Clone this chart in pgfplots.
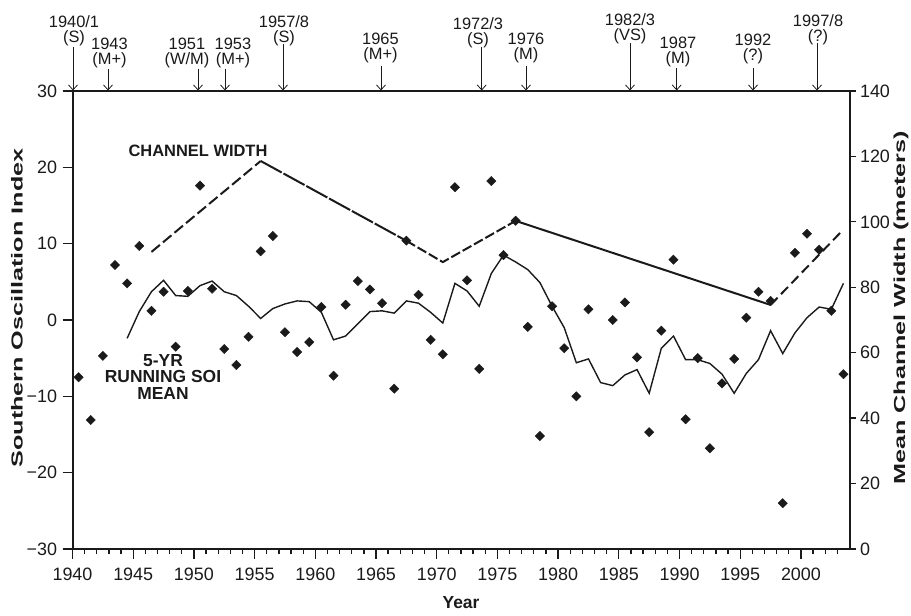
\documentclass[border=0pt]{standalone}
\usepackage{pgfplots}
\pgfplotsset{compat=1.18}
\usepackage{pgfplotstable}
\usetikzlibrary{arrows.meta}
\usepackage{fontspec}
\setmainfont{Liberation Sans}
\definecolor{ink}{HTML}{1A1A1A}

\pgfplotstableread{
year soi
1940.5 -7.5
1941.5 -13.1
1942.5 -4.7
1943.5 7.2
1944.5 4.8
1945.5 9.7
1946.5 1.2
1947.5 3.7
1948.5 -3.5
1949.5 3.8
1950.5 17.6
1951.5 4.1
1952.5 -3.8
1953.5 -5.9
1954.5 -2.2
1955.5 9.0
1956.5 11.0
1957.5 -1.6
1958.5 -4.2
1959.5 -2.9
1960.5 1.7
1961.5 -7.3
1962.5 2.0
1963.5 5.1
1964.5 4.0
1965.5 2.2
1966.5 -9.0
1967.5 10.4
1968.5 3.3
1969.5 -2.6
1970.5 -4.5
1971.5 17.4
1972.5 5.2
1973.5 -6.4
1974.5 18.2
1975.5 8.5
1976.5 13.0
1977.5 -0.9
1978.5 -15.2
1979.5 1.8
1980.5 -3.7
1981.5 -10.0
1982.5 1.4
1984.5 0.0
1985.5 2.3
1986.5 -4.9
1987.5 -14.7
1988.5 -1.4
1989.5 7.9
1990.5 -13.0
1991.5 -5.0
1992.5 -16.8
1993.5 -8.3
1994.5 -5.1
1995.5 0.3
1996.5 3.7
1997.5 2.5
1998.5 -24.0
1999.5 8.8
2000.5 11.3
2001.5 9.2
2002.5 1.2
2003.5 -7.1
}\soitable

\pgfplotstableread{
year mean
1944.5 -2.4
1945.5 1.1
1946.5 3.7
1947.5 5.2
1948.5 3.2
1949.5 3.1
1950.5 4.5
1951.5 5.1
1952.5 3.7
1953.5 3.2
1954.5 1.8
1955.5 0.2
1956.5 1.5
1957.5 2.1
1958.5 2.5
1959.5 2.4
1960.5 1.0
1961.5 -2.6
1962.5 -2.1
1963.5 -0.5
1964.5 1.1
1965.5 1.2
1966.5 0.9
1967.5 2.5
1968.5 2.2
1969.5 1.0
1970.5 -0.4
1971.5 4.8
1972.5 3.8
1973.5 1.8
1974.5 6.1
1975.5 8.5
1976.5 7.6
1977.5 6.6
1978.5 4.9
1979.5 1.8
1980.5 -1.0
1981.5 -5.6
1982.5 -5.1
1983.5 -8.2
1984.5 -8.6
1985.5 -7.2
1986.5 -6.5
1987.5 -9.6
1988.5 -3.7
1989.5 -2.1
1990.5 -5.2
1991.5 -5.2
1992.5 -5.7
1993.5 -7.1
1994.5 -9.6
1995.5 -7.0
1996.5 -5.2
1997.5 -1.4
1998.5 -4.4
1999.5 -1.7
2000.5 0.3
2001.5 1.7
2002.5 1.4
2003.5 4.8
}\meantable

\begin{document}
\begin{tikzpicture}[x=1bp,y=1bp]
\useasboundingbox (0,0) rectangle (911,616);
\begin{axis}[
  at={(72.5bp,67bp)}, anchor=south west,
  scale only axis, width=777bp, height=458bp,
  xmin=1940, xmax=2004, ymin=-30, ymax=30,
  axis line style={ink, line width=2bp},
  tick align=outside, xtick pos=bottom, ytick pos=left,
  xtick={1940,1945,...,2000},
  xticklabels={1940,1945,1950,1955,1960,1965,1970,1975,1980,1985,1990,1995,2000},
  minor xtick={1941,...,2003},
  ytick={-30,-20,...,30},
  yticklabels={−30,−20,−10,0,10,20,30},
  major tick length=10bp, minor tick length=5.5bp,
  every tick/.style={ink, line width=1.3bp},
  tick label style={font=\fontsize{18}{21}\selectfont, text=ink},
  xticklabel style={yshift=-5bp},
  yticklabel style={xshift=-2bp},
  clip=false,
]
\addplot[only marks, mark=square*, mark size=3.3bp, mark options={rotate=45}, ink] table[x=year,y=soi] {\soitable};
\addplot[ink, line width=1.4bp] table[x=year,y=mean] {\meantable};
\end{axis}
\begin{axis}[
  at={(72.5bp,67bp)}, anchor=south west,
  scale only axis, width=777bp, height=458bp,
  xmin=1940, xmax=2004, ymin=0, ymax=140,
  axis x line=none, axis y line*=right,
  axis line style={ink, line width=2bp},
  tick align=outside,
  ytick={0,20,...,140},
  yticklabels={0,20,40,60,80,100,120,140},
  major tick length=6bp,
  every tick/.style={ink, line width=1.3bp},
  tick label style={font=\fontsize{18}{21}\selectfont, text=ink},
  yticklabel style={xshift=1bp},
  clip=false,
]
\addplot[ink, line width=2bp, dash pattern=on 11bp off 4bp] coordinates {(1946.5,90.8) (1955.5,118.6)};
\addplot[ink, line width=2bp, dash pattern=on 24bp off 2bp] coordinates {(1955.5,118.6) (1967.5,94.2)};
\addplot[ink, line width=2bp, dash pattern=on 10bp off 3bp] coordinates {(1967.5,94.2) (1970.5,87.7) (1976.5,100.3)};
\addplot[ink, line width=2bp] coordinates {(1976.5,100.3) (1997.5,74.6)};
\addplot[ink, line width=2bp, dash pattern=on 10bp off 5bp] coordinates {(1997.5,74.6) (2003.3,96.9)};
\end{axis}

% in-plot labels
\node[font=\bfseries\fontsize{16.5}{19}\selectfont, text=ink] at (198,465) {CHANNEL WIDTH};
\node[font=\bfseries\fontsize{17.5}{17}\selectfont, text=ink, align=center, inner sep=0] at (163,239) {5-YR\\RUNNING SOI\\MEAN};

% axis titles
\node[font=\bfseries\fontsize{16}{19}\selectfont, text=ink, rotate=90] at (17,308) {\scalebox{1.58}[1]{Southern Oscillation Index}};
\node[font=\bfseries\fontsize{16}{19}\selectfont, text=ink, rotate=90] at (901,308) {\scalebox{1.58}[1]{Mean Channel Width (meters)}};
\node[font=\bfseries\fontsize{17.5}{20}\selectfont, text=ink] at (461,13) {Year};

% event annotations: text centre x, arrow x, top of first line, arrow start, line 1, line 2
\tikzset{ev/.style={font=\fontsize{16.5}{15}\selectfont, text=ink, inner sep=0, align=center, anchor=north}}
\tikzset{evarr/.style={ink, line width=0.8bp, -{Straight Barb[length=5bp,width=9bp]}}}
\newcommand{\ev}[6]{%
  \node[ev] at (#1,616-#3) {#5\\#6};
  \draw[evarr] (#2,616-#4) -- (#2,525.5);}
\ev{74}{73}{15}{47}{1940/1}{(S)}
\ev{109.5}{108}{38}{69}{1943}{(M+)}
\ev{187}{198}{38}{69}{1951}{(W/M)}
\ev{233}{225}{38}{69}{1953}{(M+)}
\ev{284}{283}{15}{44}{1957/8}{(S)}
\ev{380.5}{381}{33}{66}{1965}{(M+)}
\ev{478}{481.7}{17}{47}{1972/3}{(S)}
\ev{526}{526}{33}{66}{1976}{(M)}
\ev{630}{630}{13.5}{43}{1982/3}{(VS)}
\ev{678}{676.7}{37}{68}{1987}{(M)}
\ev{753}{753}{34}{68}{1992}{(?)}
\ev{818}{817}{14.5}{43}{1997/8}{(?)}
\end{tikzpicture}
\end{document}
